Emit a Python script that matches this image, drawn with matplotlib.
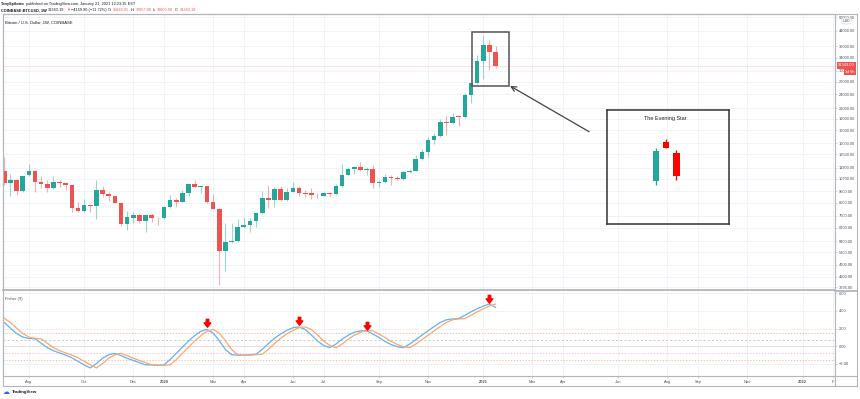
import matplotlib
matplotlib.use('Agg')
import matplotlib.pyplot as plt
import matplotlib.dates as mdates
from matplotlib.patches import Rectangle
from matplotlib.lines import Line2D
from matplotlib.path import Path
from matplotlib.ticker import NullLocator
import pandas as pd

plt.rcParams['font.family'] = ['Liberation Sans', 'DejaVu Sans']

# weekly BTCUSD candles (Coinbase)
weeks = pd.date_range('2019-07-08', periods=81, freq='7D')
opens = [11500, 10250, 10600, 9520, 11040, 11550, 10390, 10170, 9790, 10420,
         10300, 10050, 8070, 7890, 8340, 8260, 9580, 9250, 9030, 8500,
         6925, 7375, 7535, 7125, 7560, 7380, 7330, 8200, 8730, 8590,
         9360, 10170, 9910, 9980, 8530, 8040, 5350, 5830, 5890, 6770,
         6900, 7165, 7720, 8900, 8740, 9670, 8730, 9470, 9810, 9340,
         9310, 9180, 9100, 9340, 9250, 9950, 11120, 11710, 11930, 11670,
         11710, 10310, 10350, 10920, 10780, 10670, 11410, 11550, 12950, 13790,
         15490, 16050, 18410, 18230, 19440, 19250, 23850, 26720, 33060, 38240,
         35830]
highs = [13200, 11150, 10650, 11000, 12360, 11600, 10980, 10570, 10980, 10570,
         10400, 10080, 8590, 8840, 8400, 10570, 9980, 9440, 9050, 8550,
         7860, 7810, 7640, 7560, 7700, 7400, 8210, 9160, 8900, 9610,
         10200, 10570, 9990, 10000, 9250, 8110, 6990, 6990, 7290, 7450,
         7340, 7760, 9520, 10070, 9910, 9970, 9810, 10400, 9980, 9610,
         9820, 9310, 9400, 9400, 10150, 12330, 12000, 12140, 12510, 12000,
         12200, 10570, 11190, 11040, 10980, 11550, 11710, 13380, 14240, 16000,
         16500, 18930, 19540, 20000, 19460, 24330, 27170, 34880, 42230, 40260,
         37857]
lows = [10050, 9100, 9160, 9450, 10980, 9460, 9820, 9400, 9700, 9880,
        9610, 7760, 7760, 7810, 7810, 7310, 9020, 8680, 8450, 6815,
        6558, 7030, 7000, 6450, 7050, 6880, 7290, 8110, 8140, 8560,
        9100, 9850, 9310, 8450, 8010, 3870, 4446, 5800, 5860, 6660,
        6450, 6770, 7670, 8100, 8200, 8680, 8680, 9400, 9100, 8950,
        8800, 8930, 9040, 9020, 9160, 9880, 11040, 11160, 11550, 11060,
        9830, 9850, 10310, 10070, 10570, 10570, 11270, 11500, 12800, 13200,
        14900, 15920, 16250, 18100, 17640, 19060, 21990, 26500, 27740, 30230,
        30800]
closes = [10250, 10600, 9520, 10980, 11550, 10350, 10170, 9790, 10400, 10270,
          10070, 8070, 7890, 8310, 8260, 9580, 9250, 9030, 8500, 6925,
          7400, 7535, 7125, 7535, 7380, 7330, 8200, 8710, 8590, 9360,
          10170, 9910, 9980, 8530, 8040, 5350, 5830, 5900, 6770, 6900,
          7165, 7720, 8900, 8750, 9670, 8730, 9470, 9810, 9340, 9280,
          9130, 9130, 9340, 9250, 9950, 11120, 11710, 11930, 11630, 11750,
          10270, 10390, 10920, 10820, 10670, 11410, 11550, 12950, 13790, 15490,
          16050, 18410, 18230, 19360, 19250, 23850, 26720, 33060, 38240, 35830,
          31343]

# Fisher (9): fisher line and trigger line, one value per bar
fisher = [2.70, 2.05, 1.45, 1.05, 0.90, 0.85, 0.35, -0.15, -0.50, -0.75,
          -1.00, -1.30, -1.70, -2.10, -2.45, -1.95, -1.35, -0.95, -0.80, -1.05,
          -1.35, -1.60, -1.85, -2.10, -2.10, -2.15, -2.10, -1.50, -0.80, -0.10,
          0.60, 1.20, 1.70, 1.92, 1.50, 0.65, -0.35, -0.95, -1.00, -1.00,
          -0.95, -0.90, -0.35, 0.30, 0.90, 1.40, 1.80, 2.10, 2.20, 1.90,
          1.30, 0.60, 0.10, -0.15, 0.25, 0.80, 1.25, 1.60, 1.75, 1.75,
          1.40, 1.00, 0.55, 0.20, -0.05, -0.15, 0.25, 0.75, 1.25, 1.75,
          2.25, 2.70, 3.00, 3.10, 3.15, 3.50, 3.90, 4.25, 4.55, 4.78, 4.41]
trigger = [3.17, 2.70, 2.05, 1.45, 1.05, 0.90, 0.85, 0.35, -0.15, -0.50,
           -0.75, -1.00, -1.30, -1.70, -2.10, -2.45, -1.95, -1.35, -0.95, -0.80,
           -1.05, -1.35, -1.60, -1.85, -2.10, -2.10, -2.15, -2.10, -1.50, -0.80,
           -0.10, 0.60, 1.20, 1.70, 1.92, 1.50, 0.65, -0.35, -0.95, -1.00,
           -1.00, -0.95, -0.90, -0.35, 0.30, 0.90, 1.40, 1.80, 2.10, 2.20,
           1.90, 1.30, 0.60, 0.10, -0.15, 0.25, 0.80, 1.25, 1.60, 1.75,
           1.75, 1.40, 1.00, 0.55, 0.20, -0.05, -0.15, 0.25, 0.75, 1.25,
           1.75, 2.25, 2.70, 3.00, 3.10, 3.15, 3.50, 3.90, 4.25, 4.55, 4.78]
fisher_levels = [1.5, 0.75, 0, -0.75, -1.5]
arrow_bars = [33, 48, 59, 79]
arrow_vals = [2.6, 2.85, 2.35, 5.3]

price_ticks = [50000, 44000, 38000, 34000, 30000, 27000, 24000, 21000, 19000, 17000,
               15000, 13500, 11900, 10700, 9500, 8500, 7500, 6700, 5900, 5300,
               4700, 4200, 3795]
fisher_ticks = [6, 4, 2, 0, -2]
month_dates = ['2019-08-05', '2019-10-07', '2019-12-02', '2020-01-06', '2020-03-02',
               '2020-04-06', '2020-06-01', '2020-07-06', '2020-09-07', '2020-11-02',
               '2021-01-04', '2021-03-01', '2021-04-05', '2021-06-07', '2021-08-02',
               '2021-09-06', '2021-11-01', '2022-01-03', '2022-02-07']
month_labels = ['Aug', 'Oct', 'Dec', '2020', 'Mar', 'Apr', 'Jun', 'Jul', 'Sep', 'Nov',
                '2021', 'Mar', 'Apr', 'Jun', 'Aug', 'Sep', 'Nov', '2022', 'F']

# the pasted "evening star" sketch (arbitrary units)
star_x = [48.7, 58.7, 69.0]
star_o = [43.3, 82.0, 71.3]
star_h = [76.3, 85.0, 74.0]
star_l = [39.0, 76.3, 44.0]
star_c = [73.0, 76.3, 48.3]

W, H = 860, 399
GREEN, RED = '#26a69a', '#ef5350'
GRID, FRAME, TXT, DARK = '#eef1f6', '#b2b5be', '#50535e', '#131722'


def fx(px):
    return px / W


def fy(py):
    return 1 - py / H


fig = plt.figure(figsize=(W / 100, H / 100), dpi=100)
ax = fig.add_axes([fx(3), fy(290), fx(835) - fx(3), fy(14) - fy(290)])
axf = fig.add_axes([fx(3), fy(376), fx(835) - fx(3), fy(291) - fy(376)])

x = mdates.date2num(weeks)
d0 = x[0]
xlim = (d0 - 1.5, d0 + 947)

# candles
up = [c >= o for o, c in zip(opens, closes)]
cols = [GREEN if u else RED for u in up]
ax.vlines(x, lows, highs, colors=cols, lw=0.8, alpha=0.45, zorder=2)
bottoms = [min(o, c) for o, c in zip(opens, closes)]
heights = [max(abs(c - o), min(o, c) * 0.008) for o, c in zip(opens, closes)]
ax.bar(x, heights, bottom=bottoms, width=5.3, color=cols, lw=0, zorder=3)

ax.set_yscale('log')
ax.set_ylim(3697, 51600)
ax.set_xlim(*xlim)
ax.yaxis.tick_right()
ax.set_yticks(price_ticks)
ax.set_yticklabels([f'{v:.2f}' for v in price_ticks])
ax.yaxis.set_minor_locator(NullLocator())
ax.tick_params(axis='y', labelsize=2.9, colors=TXT, length=1.5, width=0.4, pad=1)
ax.tick_params(axis='y', color=FRAME)
tick_x = mdates.date2num(pd.to_datetime(month_dates))
ax.set_xticks(tick_x)
ax.tick_params(axis='x', bottom=False, labelbottom=False)
ax.grid(True, color=GRID, lw=0.6, zorder=0)
ax.set_axisbelow(True)
for s in ax.spines.values():
    s.set_color(FRAME)
    s.set_linewidth(0.8)
ax.spines['bottom'].set_linewidth(1.3)

ax.axhline(closes[-1], color=RED, lw=0.6, ls=(0, (1, 1)), alpha=0.4, zorder=1)
ax.text(0.0025, 0.975, 'Bitcoin / U.S. Dollar, 1W, COINBASE', transform=ax.transAxes,
        fontsize=3, color=DARK, va='top', ha='left')

# evening star box and pointer
ax.add_patch(Rectangle((d0 + 533.2, 25880), 42.5, 43580 - 25880, fill=False,
                       ec='#555555', lw=1.1, zorder=4))
ax.annotate('', xy=(d0 + 576.5, 25960), xytext=(d0 + 666.6, 16770),
            arrowprops=dict(arrowstyle='->', color='#444444', lw=0.9,
                            shrinkA=0, shrinkB=0, mutation_scale=9))

# fisher panel
axf.plot(x, fisher, color='#5fb3f0', lw=0.9, zorder=3)
axf.plot(x, trigger, color='#ffa66e', lw=0.9, zorder=3)
lvl_style = {1.5: ('#f8b08c', (0, (1.5, 2))), 0.75: ('#c4c4c4', (0, (2.5, 2.5))),
             0: ('#f5b8b8', (0, (1, 1))), -0.75: ('#f5b8c4', (0, (1.5, 2))),
             -1.5: ('#f8b08c', (0, (1.5, 2)))}
for lv in fisher_levels:
    c, ls = lvl_style[lv]
    axf.axhline(lv, color=c, lw=0.6, ls=ls, zorder=1)

arrow = Path([(-0.3, 1.0), (0.3, 1.0), (0.3, 0.15), (0.8, 0.15), (0.0, -0.9),
              (-0.8, 0.15), (-0.3, 0.15), (-0.3, 1.0)],
             [Path.MOVETO] + [Path.LINETO] * 6 + [Path.CLOSEPOLY])
axf.plot(x[arrow_bars], arrow_vals, ls='none', marker=arrow, ms=6,
         color='#ff0000', mec='#ff0000', zorder=5)

axf.set_xlim(*xlim)
axf.set_ylim(-3.36, 6.26)
axf.yaxis.tick_right()
axf.set_yticks(fisher_ticks)
axf.set_yticklabels(['6.00', '4.00', '2.00', '0.00', '\u22122.00'])
axf.set_xticks(tick_x)
axf.set_xticklabels(month_labels)
for lab in axf.get_xticklabels():
    if lab.get_text().isdigit():
        lab.set_fontweight('bold')
axf.tick_params(axis='both', labelsize=2.9, colors=TXT, length=1.5, width=0.4, pad=1.5)
axf.tick_params(axis='both', color=FRAME)
axf.grid(True, color=GRID, lw=0.6, zorder=0)
axf.set_axisbelow(True)
for s in axf.spines.values():
    s.set_color(FRAME)
    s.set_linewidth(0.8)
axf.spines['top'].set_visible(False)
axf.text(0.0025, 0.93, 'Fisher (9)', transform=axf.transAxes, fontsize=3,
         color=TXT, va='top', ha='left')

# inset sketch of the pattern
axi = fig.add_axes([fx(607.3), fy(224), (728.7 - 607.3) / W, (224 - 109.7) / H])
axi.patch.set_alpha(0)
axi.set_xlim(0, 121.4)
axi.set_ylim(0, 114.3)
axi.set_xticks([])
axi.set_yticks([])
for s in axi.spines.values():
    s.set_color('#333333')
    s.set_linewidth(1.1)
scol = [GREEN if c >= o else '#ff0000' for o, c in zip(star_o, star_c)]
axi.vlines(star_x, star_l, star_h, colors=scol, lw=0.9)
axi.bar(star_x, [abs(c - o) for o, c in zip(star_o, star_c)],
        bottom=[min(o, c) for o, c in zip(star_o, star_c)], width=6.5, color=scol, lw=0)
axi.text(0.475, 0.92, 'The Evening Star', transform=axi.transAxes, fontsize=4,
         ha='center', va='center', color='#222222')

# frame pieces around the price scale
frame_lines = [((3, 857), (14, 14)), ((857, 857), (14, 386)), ((3, 857), (386, 386)),
               ((3, 3), (14, 386)), ((835, 857), (290.5, 290.5)), ((835, 857), (376, 376)),
               ((835, 835), (376, 386))]
for xs, ys in frame_lines:
    fig.add_artist(Line2D([fx(v) for v in xs], [fy(v) for v in ys], color=FRAME,
                          lw=0.8 if ys[0] != 290.5 else 1.3))

# price scale labels
fig.text(fx(846.5), fy(21), 'USD', fontsize=2.6, color=TXT, ha='center', va='center',
         bbox=dict(boxstyle='round,pad=0.25', fc='white', ec='#d1d4dc', lw=0.4))
fig.text(fx(846.5), fy(65.3), f'{closes[-1]:.2f}', fontsize=2.9, color='white',
         ha='center', va='center',
         bbox=dict(boxstyle='square,pad=0.35', fc=RED, ec='none'))
fig.text(fx(850), fy(72), '3d 6h', fontsize=2.7, color='white', ha='center', va='center',
         bbox=dict(boxstyle='square,pad=0.3', fc=RED, ec='none'))

# header: pieces laid out one after another
renderer = fig.canvas.get_renderer()


def text_run(y, pieces, start=1.3, size=2.8):
    cur = start
    for s, c, wgt in pieces:
        t = fig.text(fx(cur), fy(y), s, fontsize=size, color=c, fontweight=wgt,
                     va='center', ha='left', family=['Liberation Sans', 'DejaVu Sans'])
        cur += t.get_window_extent(renderer).width + 1.2


text_run(4.2, [('TonySpilotro', DARK, 'bold'),
               ('published on TradingView.com, January 21, 2021 12:23:35 EST', DARK, 'normal')])
text_run(10.3, [('COINBASE:BTCUSD, 1W', DARK, 'bold'), ('31343.19', DARK, 'normal'),
                ('\u25bc', RED, 'normal'), ('\u22124159.90 (\u221211.72%)', DARK, 'normal'),
                ('O:', DARK, 'normal'), ('35828.01', RED, 'normal'),
                ('H:', DARK, 'normal'), ('37857.00', RED, 'normal'),
                ('L:', DARK, 'normal'), ('30800.00', RED, 'normal'),
                ('C:', DARK, 'normal'), ('31343.19', RED, 'normal')])

# footer logo
fig.text(fx(3), fy(392), '\u2601', fontsize=5, color='#2962ff', va='center',
         family=['DejaVu Sans'])
fig.text(fx(12), fy(392), 'TradingView', fontsize=3.2, color=DARK, va='center',
         fontweight='bold')

fig.savefig('out.png', dpi=100, facecolor='white')
